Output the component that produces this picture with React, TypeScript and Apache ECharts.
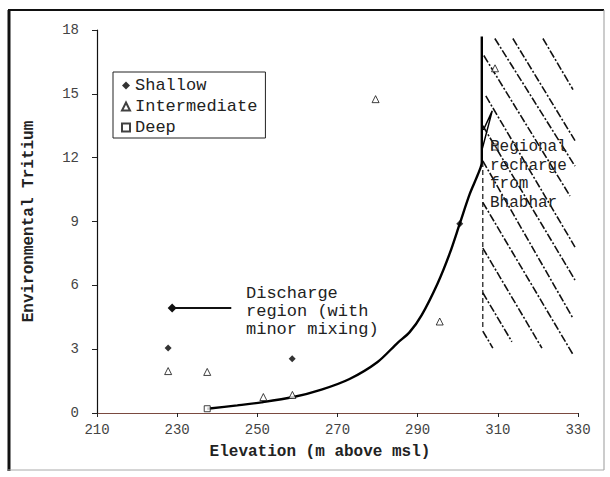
import React, { useEffect, useRef } from "react";
import * as echarts from "echarts";

// ---- data ----
const shallow: [number, number][] = [
  [227.75, 3.05],
  [258.7, 2.55],
  [300.5, 8.9],
];
const intermediate: [number, number][] = [
  [227.75, 1.97],
  [237.5, 1.93],
  [251.5, 0.75],
  [258.75, 0.85],
  [279.5, 14.75],
  [295.5, 4.3],
  [309.3, 16.2],
];
const deep: [number, number][] = [
  [237.5, 0.2],
  [309.3, 12.5],
];
const curve: [number, number][] = [
  [237.5, 0.2], [245, 0.36], [251, 0.5], [259, 0.75], [266, 1.1], [273, 1.6],
  [280, 2.4], [285, 3.3], [288, 3.8], [291, 4.6], [295, 6.1], [298, 7.5],
  [300.5, 8.9], [303, 10.3], [305, 11.2], [306, 11.8], [306, 17.7],
];
const curveKink: [number, number][] = [
  [306.1, 12.4], [308.6, 14.2], [306.4, 13.3],
];
const dashedBoundary: [number, number][] = [
  [306.25, 11.8],
  [306.25, 3.9],
];
const hatch: [number, number][][] = [
  [[321.25, 17.6], [328.75, 15.2]],
  [[313.75, 17.6], [329.25, 12.8]],
  [[309.25, 17.6], [329.25, 11.6]],
  [[306.5, 16.8], [328, 10.2]],
  [[307, 14.9], [329.25, 7.8]],
  [[306.25, 13.5], [329.25, 6.25]],
  [[306.25, 11.85], [328.75, 4.45]],
  [[306.25, 9.9], [328.75, 2.75]],
  [[306.25, 7.75], [321, 3.05]],
  [[306.25, 5.65], [313.5, 3.35]],
  [[306.25, 3.85], [308.75, 3.05]],
];
const arrowLine: [number, number][] = [
  [228.75, 4.93],
  [243.5, 4.93],
];
const xRange = { min: 210, max: 330, interval: 20 };
const yRange = { min: 0, max: 18, interval: 3 };
const seriesNames = ["Shallow", "Intermediate", "Deep"];
const xTitle = "Elevation (m above msl)";
const yTitle = "Environmental Tritium";
const dischargeText = "Discharge\nregion (with\nminor mixing)";
const rechargeText = "Regional\nrecharge\nfrom\nBhabhar";

const FONT = "'Liberation Mono', 'DejaVu Sans Mono', monospace";

export default function App() {
  const ref = useRef<HTMLDivElement>(null);
  useEffect(() => {
    document.body.style.margin = "0";
    const chart = echarts.init(ref.current!, undefined, { renderer: "svg" });
    const markerBase = { color: "#fff", borderColor: "#111", borderWidth: 1 };
    chart.setOption({
      animation: false,
      backgroundColor: "#fff",
      grid: { left: 97, right: 32, top: 30, bottom: 64 },
      xAxis: {
        type: "value",
        min: xRange.min,
        max: xRange.max,
        interval: xRange.interval,
        axisLine: { onZero: false, lineStyle: { color: "#7a4a40", width: 1.2 } },
        axisTick: { show: true, inside: false, length: 4, lineStyle: { color: "#222" } },
        axisLabel: { fontFamily: FONT, fontSize: 14, color: "#444", margin: 10 },
        splitLine: { show: false },
      },
      yAxis: {
        type: "value",
        min: yRange.min,
        max: yRange.max,
        interval: yRange.interval,
        name: yTitle,
        nameLocation: "middle",
        nameRotate: 90,
        nameGap: 60,
        nameTextStyle: { fontFamily: FONT, fontSize: 16, fontWeight: "bold", color: "#222" },
        axisLine: { show: true, lineStyle: { color: "#111", width: 1.2 } },
        axisTick: { show: true, inside: false, length: 5, lineStyle: { color: "#222" } },
        axisLabel: { fontFamily: FONT, fontSize: 14, color: "#444", margin: 18 },
        splitLine: { show: false },
      },
      legend: {
        left: 113,
        top: 72,
        orient: "vertical",
        data: seriesNames,
        itemWidth: 8,
        itemHeight: 8,
        itemGap: 4,
        padding: [5, 8, 2, 8],
        borderColor: "#222",
        borderWidth: 1,
        textStyle: { fontFamily: FONT, fontSize: 17, color: "#222" },
      },
      series: [
        {
          type: "lines",
          coordinateSystem: "cartesian2d",
          silent: true,
          data: hatch.map((c) => ({ coords: c })),
          lineStyle: { color: "#111", width: 1.6, type: [8, 2, 2, 2], opacity: 1 },
          z: 1,
        },
        {
          type: "line",
          data: dashedBoundary,
          showSymbol: false,
          lineStyle: { color: "#111", width: 1.2, type: [5, 3] },
          z: 2,
        },
        {
          type: "line",
          data: curve,
          showSymbol: false,
          smooth: 0.3,
          lineStyle: { color: "#000", width: 2.4 },
          z: 3,
        },
        {
          type: "line",
          data: curveKink,
          showSymbol: false,
          lineStyle: { color: "#000", width: 1.5 },
          z: 3,
        },
        {
          type: "lines",
          coordinateSystem: "cartesian2d",
          silent: true,
          data: [{ coords: arrowLine }],
          symbol: ["diamond", "none"],
          symbolSize: 9,
          lineStyle: { color: "#111", width: 2.2, opacity: 1 },
          z: 3,
        },
        {
          name: seriesNames[0],
          type: "scatter",
          data: shallow,
          symbol: "diamond",
          symbolSize: 7,
          itemStyle: { color: "#000" },
          z: 5,
        },
        {
          name: seriesNames[1],
          type: "scatter",
          data: intermediate,
          symbol: "triangle",
          symbolSize: 7,
          itemStyle: markerBase,
          z: 5,
        },
        {
          name: seriesNames[2],
          type: "scatter",
          data: deep,
          symbol: "rect",
          symbolSize: 6,
          itemStyle: markerBase,
          z: 5,
        },
      ],
      graphic: [
        {
          type: "text",
          x: 320,
          y: 452,
          style: { text: xTitle, font: `bold 16px ${FONT}`, fill: "#222", align: "center", verticalAlign: "middle" },
          z: 10,
        },
        {
          type: "text",
          x: 246,
          y: 284,
          style: { text: dischargeText, font: `17px ${FONT}`, fill: "#222", lineHeight: 18, verticalAlign: "top" },
          z: 10,
        },
        {
          type: "text",
          x: 490,
          y: 138,
          style: { text: rechargeText, font: `16px ${FONT}`, fill: "#222", lineHeight: 18.5, verticalAlign: "top" },
          z: 10,
        },
        { type: "line", shape: { x1: 9, y1: 10, x2: 9, y2: 471 }, style: { stroke: "#111", lineWidth: 3 }, z: 20 },
        { type: "line", shape: { x1: 8, y1: 10, x2: 604, y2: 10 }, style: { stroke: "#111", lineWidth: 2 }, z: 20 },
        { type: "line", shape: { x1: 604, y1: 10, x2: 604, y2: 470 }, style: { stroke: "#999", lineWidth: 1 }, z: 20 },
        { type: "line", shape: { x1: 8, y1: 470, x2: 604, y2: 470 }, style: { stroke: "#aaa", lineWidth: 1 }, z: 20 },
      ],
    });
    return () => chart.dispose();
  }, []);
  return <div ref={ref} style={{ width: 610, height: 477 }} />;
}
